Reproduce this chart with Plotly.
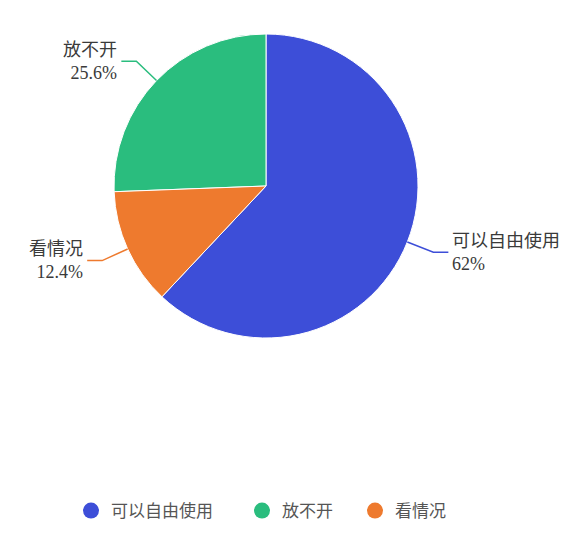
import math
import plotly.graph_objects as go

# ---- data ----
labels = ["可以自由使用", "放不开", "看情况"]
values = [62, 25.6, 12.4]
colors = ["#3D4ED8", "#2ABD7E", "#EE7A2E"]

# ---- layout constants (pixels) ----
W, H = 575, 538
CX, CY, R = 266, 186, 152
LEN1, LEN2 = 28, 15
LEGEND_X = [91, 262, 375]   # symbol centres
LEGEND_Y = 511

def px(x):
    return x / W

def py(y):
    return 1 - y / H

total = sum(values)

fig = go.Figure()
# counterclockwise: first slice covers clockwise angles [rotation, rotation + its span]
fig.add_trace(go.Pie(
    labels=labels, values=values, sort=False, direction="counterclockwise",
    rotation=0, textinfo="none", hoverinfo="label+percent",
    marker=dict(colors=colors, line=dict(color="white", width=1)),
    domain=dict(x=[px(CX - R), px(CX + R)], y=[py(CY + R), py(CY - R)]),
    showlegend=False,
))

# legend entries with circle symbols, one small legend each
legend_names = ["legend", "legend2", "legend3"]
for lab, col, lg in zip(labels, colors, legend_names):
    fig.add_trace(go.Scatter(x=[None], y=[None], mode="markers", name=lab, legend=lg,
                             marker=dict(symbol="circle", size=17, color=col)))

# leader lines and labels, angles from the data
shapes, annotations = [], []
start = values[0] / total * 360  # clockwise angle of first slice's far edge
for lab, val, col in zip(labels, values, colors):
    span = val / total * 360
    mid = start - span / 2
    start -= span
    a = math.radians(mid)
    sx, sy = math.sin(a), -math.cos(a)
    x0, y0 = CX + R * sx, CY + R * sy
    x1, y1 = CX + (R + LEN1) * sx, CY + (R + LEN1) * sy
    right = sx >= 0
    x2 = x1 + (LEN2 if right else -LEN2)
    path = f"M {px(x0)},{py(y0)} L {px(x1)},{py(y1)} L {px(x2)},{py(y1)}"
    shapes.append(dict(type="path", path=path, xref="paper", yref="paper",
                       line=dict(color=col, width=1.5)))
    pct = val / total * 100
    pct_s = (f"{pct:.1f}").rstrip("0").rstrip(".") + "%"
    annotations.append(dict(
        x=px(x2 + (2 if right else -2)), y=py(y1), xref="paper", yref="paper",
        text=f"{lab}<br>{pct_s}", showarrow=False,
        xanchor="left" if right else "right", yanchor="middle",
        align="left" if right else "right",
        font=dict(family="Liberation Serif, Noto Sans CJK SC", size=18, color="#3a3a3a"),
    ))

legend_font = dict(family="Noto Sans CJK SC", size=17, color="#555555")
layout_legends = {}
for lg, lx in zip(legend_names, LEGEND_X):
    layout_legends[lg] = dict(orientation="h", x=px(lx - 20), xanchor="left",
                              y=py(LEGEND_Y), yanchor="middle", font=legend_font,
                              bgcolor="rgba(0,0,0,0)")

fig.update_layout(
    width=W, height=H,
    margin=dict(l=0, r=0, t=0, b=0),
    paper_bgcolor="white", plot_bgcolor="white",
    xaxis=dict(visible=False), yaxis=dict(visible=False),
    shapes=shapes, annotations=annotations,
    **layout_legends,
)

fig.write_html("out.html", config={"displayModeBar": False},
               post_script="document.body.style.margin='0';")
